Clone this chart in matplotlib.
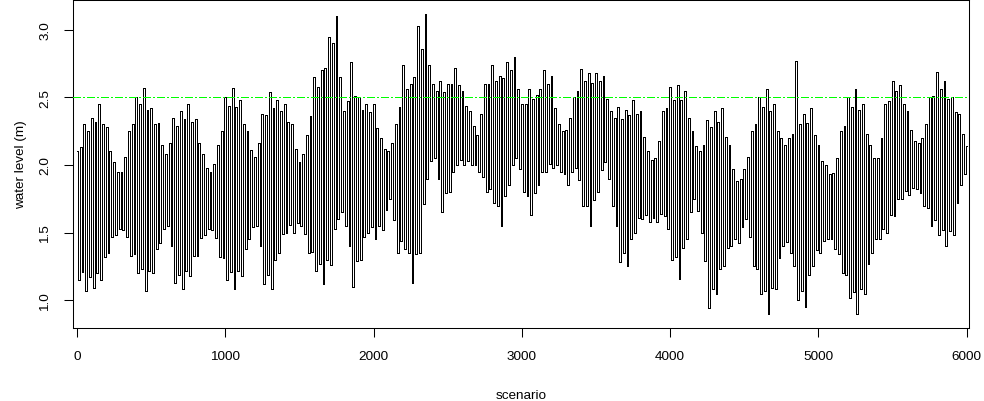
import matplotlib
matplotlib.use("Agg")
import matplotlib.pyplot as plt
import numpy as np

plt.rcParams['font.family'] = ['Liberation Sans', 'DejaVu Sans']

# high and low water of each tide (one tide per 25 scenarios)
high_water = [
    2.10, 2.13, 2.30, 2.25, 2.35, 2.32, 2.45, 2.30, 2.28, 2.10,
    2.02, 1.95, 1.95, 2.06, 2.25, 2.30, 2.50, 2.45, 2.57, 2.41,
    2.42, 2.30, 2.31, 2.15, 2.08, 2.16, 2.35, 2.29, 2.40, 2.34,
    2.45, 2.32, 2.34, 2.16, 2.08, 1.98, 1.95, 2.01, 2.15, 2.25,
    2.50, 2.44, 2.57, 2.43, 2.48, 2.30, 2.25, 2.11, 2.06, 2.16,
    2.38, 2.37, 2.54, 2.42, 2.48, 2.40, 2.45, 2.32, 2.30, 2.12,
    2.02, 2.08, 2.22, 2.36, 2.65, 2.58, 2.70, 2.72, 2.95, 2.90,
    3.10, 2.65, 2.40, 2.47, 2.76, 2.51, 2.50, 2.41, 2.45, 2.39,
    2.45, 2.27, 2.20, 2.12, 2.10, 2.16, 2.30, 2.43, 2.74, 2.56,
    2.60, 2.65, 3.03, 2.86, 3.12, 2.74, 2.60, 2.55, 2.62, 2.54,
    2.60, 2.60, 2.72, 2.59, 2.55, 2.44, 2.40, 2.29, 2.22, 2.38,
    2.60, 2.60, 2.74, 2.62, 2.66, 2.64, 2.76, 2.70, 2.80, 2.56,
    2.45, 2.45, 2.56, 2.49, 2.52, 2.56, 2.70, 2.60, 2.66, 2.42,
    2.30, 2.25, 2.26, 2.35, 2.50, 2.55, 2.71, 2.62, 2.68, 2.61,
    2.68, 2.62, 2.66, 2.49, 2.40, 2.35, 2.43, 2.34, 2.41, 2.37,
    2.48, 2.38, 2.40, 2.21, 2.10, 2.04, 2.05, 2.18, 2.40, 2.42,
    2.58, 2.48, 2.59, 2.48, 2.55, 2.35, 2.25, 2.14, 2.10, 2.15,
    2.33, 2.28, 2.40, 2.32, 2.42, 2.21, 2.15, 1.97, 1.88, 1.90,
    1.97, 2.06, 2.25, 2.30, 2.50, 2.43, 2.56, 2.40, 2.45, 2.25,
    2.20, 2.15, 2.20, 2.23, 2.77, 2.30, 2.38, 2.31, 2.42, 2.22,
    2.15, 2.03, 2.00, 1.93, 1.94, 2.05, 2.25, 2.29, 2.50, 2.43,
    2.56, 2.41, 2.45, 2.23, 2.15, 2.05, 2.05, 2.20, 2.45, 2.47,
    2.62, 2.55, 2.59, 2.45, 2.40, 2.26, 2.18, 2.16, 2.20, 2.30,
    2.50, 2.51, 2.69, 2.56, 2.62, 2.49, 2.50, 2.39, 2.38, 2.23,
]
low_water = [
    1.15, 1.21, 1.07, 1.17, 1.09, 1.20, 1.15, 1.32, 1.35, 1.47,
    1.48, 1.53, 1.52, 1.47, 1.33, 1.34, 1.20, 1.23, 1.07, 1.22,
    1.20, 1.38, 1.42, 1.53, 1.55, 1.40, 1.13, 1.19, 1.08, 1.22,
    1.18, 1.33, 1.33, 1.46, 1.48, 1.53, 1.52, 1.46, 1.32, 1.31,
    1.15, 1.21, 1.08, 1.22, 1.18, 1.38, 1.45, 1.54, 1.55, 1.40,
    1.12, 1.19, 1.08, 1.30, 1.35, 1.49, 1.50, 1.56, 1.50, 1.57,
    1.55, 1.49, 1.35, 1.36, 1.22, 1.27, 1.12, 1.30, 1.26, 1.53,
    1.60, 1.65, 1.55, 1.40, 1.10, 1.29, 1.30, 1.47, 1.50, 1.54,
    1.45, 1.55, 1.52, 1.67, 1.75, 1.59, 1.35, 1.44, 1.38, 1.35,
    1.13, 1.34, 1.35, 1.71, 1.90, 2.03, 2.05, 1.90, 1.65, 1.79,
    1.80, 1.95, 2.00, 2.04, 2.00, 2.03, 2.00, 2.00, 1.95, 1.91,
    1.80, 1.82, 1.72, 1.70, 1.55, 1.77, 1.85, 2.00, 2.05, 1.97,
    1.80, 1.77, 1.63, 1.79, 1.85, 1.95, 1.95, 2.01, 1.98, 2.00,
    1.95, 1.93, 1.85, 1.95, 1.98, 1.89, 1.70, 1.70, 1.55, 1.74,
    1.80, 1.96, 2.02, 1.90, 1.70, 1.55, 1.28, 1.35, 1.25, 1.45,
    1.50, 1.61, 1.60, 1.63, 1.58, 1.61, 1.58, 1.64, 1.62, 1.53,
    1.30, 1.32, 1.16, 1.39, 1.45, 1.65, 1.75, 1.66, 1.50, 1.29,
    0.94, 1.08, 1.05, 1.23, 1.25, 1.39, 1.40, 1.45, 1.42, 1.54,
    1.60, 1.47, 1.25, 1.23, 1.05, 1.07, 0.90, 1.09, 1.08, 1.31,
    1.40, 1.43, 1.35, 1.25, 1.00, 1.07, 0.95, 1.19, 1.25, 1.37,
    1.35, 1.44, 1.45, 1.45, 1.38, 1.34, 1.20, 1.19, 1.02, 1.06,
    0.90, 1.08, 1.05, 1.27, 1.35, 1.45, 1.45, 1.53, 1.50, 1.63,
    1.62, 1.75, 1.75, 1.81, 1.78, 1.83, 1.82, 1.79, 1.70, 1.68,
    1.55, 1.59, 1.48, 1.52, 1.40, 1.51, 1.48, 1.72, 1.85, 1.93,
]
last_level = 2.14
threshold = 2.5
x_ticks = [0, 1000, 2000, 3000, 4000, 5000, 6000]
y_ticks = [1.0, 1.5, 2.0, 2.5, 3.0]

# interleave high and low water into one series
level = []
for h, l in zip(high_water, low_water):
    level.append(h)
    level.append(l)
level.append(last_level)
scenario = np.linspace(0, 6000, len(level))

fig = plt.figure(figsize=(9.84, 4.02), dpi=100)
ax = fig.add_axes([73 / 984, 73 / 402, 896 / 984, 328 / 402])

# steps keep each rise and fall vertical, as in the dense original series
ax.plot(scenario, level, color='black', lw=0.6, antialiased=False,
        drawstyle='steps-mid')
# R lty "dotdash" look: ~7px dash, 2.5px gap, 1.5px dot
ax.axhline(threshold, color='#00ff00', lw=0.72, dashes=(7, 2.5, 1.5, 2.5),
           antialiased=False, zorder=3)

ax.set_xlim(-27, 6015)
ax.set_ylim(0.795, 3.22)
ax.set_xticks(x_ticks)
ax.set_xticklabels([str(t) for t in x_ticks])
ax.set_yticks(y_ticks)
ax.set_yticklabels([f'{t:.1f}' for t in y_ticks], rotation=90, va='center')
ax.tick_params(direction='out', length=6.5, width=0.75, labelsize=9.7, pad=9)
for s in ax.spines.values():
    s.set_linewidth(0.75)

ax.set_xlabel('scenario', fontsize=9.7, labelpad=20)
ax.set_ylabel('water level (m)', fontsize=9.7, labelpad=9)

fig.savefig('out.png', dpi=100)
